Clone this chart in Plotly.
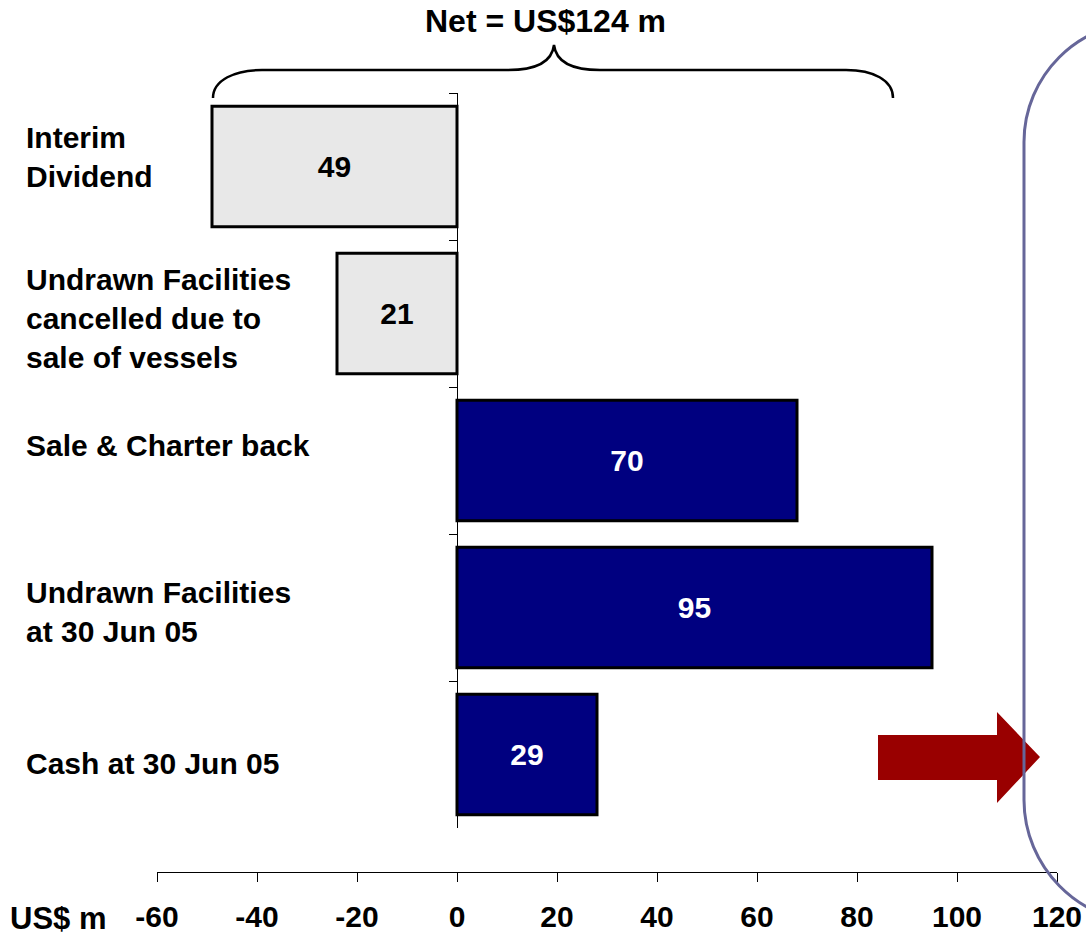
import plotly.graph_objects as go

# ---- data ----
categories = [
    "Interim<br>Dividend",
    "Undrawn Facilities<br>cancelled due to<br>sale of vessels",
    "Sale & Charter back",
    "Undrawn Facilities<br>at 30 Jun 05",
    "Cash at 30 Jun 05",
]
values = [-49, -24, 68, 95, 28]          # bar extents (US$ m)
value_labels = ["49", "21", "70", "95", "29"]
bar_colors = ["#E8E8E8", "#E8E8E8", "#000080", "#000080", "#000080"]
label_colors = ["black", "black", "white", "white", "white"]
x_ticks = [-60, -40, -20, 0, 20, 40, 60, 80, 100, 120]
x_tick_text = ["-60", "-40", "-20", "0", "20", "40", "60", "80", "100", "120"]
net_title = "Net = US$124 m"
unit_label = "US$ m"

# small vertical nudges (px) of the category labels
label_yshift = [10, -5, 15, -4, -9]

W, H = 1086, 936
ML, MR, MT, MB = 157, 29, 93, 64
PW, PH = W - ML - MR, H - MT - MB
FONT = "Liberation Sans, Arial, sans-serif"


def P(px, py):
    """pixel -> paper coords string for shape paths"""
    return f"{(px - ML) / PW:.5f},{(H - MB - py) / PH:.5f}"


fig = go.Figure()
fig.add_trace(go.Bar(
    x=values, y=categories, orientation="h", width=0.82,
    marker=dict(color=bar_colors, line=dict(color="black", width=3)),
    text=value_labels, textposition="inside", insidetextanchor="middle",
    textangle=0, constraintext="none",
    textfont=dict(family=FONT, size=30, weight="bold", color=label_colors),
    hoverinfo="skip", showlegend=False,
))

ann = []
for c, ys in zip(categories, label_yshift):
    ann.append(dict(
        x=(24 - ML) / PW, xref="paper", y=c, yref="y", text=c, yshift=ys,
        xanchor="left", yanchor="middle", align="left", showarrow=False,
        font=dict(family=FONT, size=30, weight="bold", color="black"),
    ))
ann.append(dict(
    x=(545 - ML) / PW, xref="paper", y=(H - MB - 21) / PH, yref="paper",
    text=net_title, showarrow=False, xanchor="center", yanchor="middle",
    font=dict(family=FONT, size=32, weight="bold", color="black"),
))
ann.append(dict(
    x=(8 - ML) / PW, xref="paper", y=(H - MB - 918) / PH, yref="paper",
    text=unit_label, showarrow=False, xanchor="left", yanchor="middle",
    font=dict(family=FONT, size=31, weight="bold", color="black"),
))

brace = (
    f"M {P(213, 98)} C {P(213, 80)} {P(235, 70)} {P(262, 70)} "
    f"L {P(508, 70)} C {P(535, 70)} {P(552, 62)} {P(554, 45)} "
    f"C {P(556, 62)} {P(573, 70)} {P(600, 70)} "
    f"L {P(846, 70)} C {P(873, 70)} {P(893, 80)} {P(893, 98)}"
)
arrow = (
    f"M {P(878, 735)} L {P(997, 735)} L {P(997, 712)} L {P(1040, 757)} "
    f"L {P(997, 803)} L {P(997, 780)} L {P(878, 780)} Z"
)
frame = (
    f"M {P(1300, 22)} L {P(1144, 22)} C {P(1078, 22)} {P(1024, 76)} {P(1024, 142)} "
    f"L {P(1024, 800)} C {P(1024, 866)} {P(1078, 922)} {P(1144, 922)} L {P(1300, 922)}"
)
shapes = [
    dict(type="path", xref="paper", yref="paper", path=brace,
         line=dict(color="black", width=2.5)),
    dict(type="path", xref="paper", yref="paper", path=arrow,
         fillcolor="#990000", line=dict(width=0)),
    dict(type="path", xref="paper", yref="paper", path=frame,
         line=dict(color="#666699", width=3)),
]

fig.update_layout(
    width=W, height=H,
    margin=dict(l=ML, r=MR, t=MT, b=MB, autoexpand=False),
    paper_bgcolor="white", plot_bgcolor="white",
    annotations=ann, shapes=shapes,
    xaxis=dict(
        range=[-60, 120], tickvals=x_ticks, ticktext=x_tick_text,
        ticks="outside", ticklen=9, ticklabelstandoff=9, automargin=False,
        tickcolor="black", showline=True, linecolor="black", linewidth=1,
        showgrid=False, zeroline=False, anchor="free", position=0,
        tickfont=dict(family=FONT, size=30, weight="bold", color="black"),
    ),
    yaxis=dict(
        type="category", categoryorder="array", categoryarray=categories,
        range=[4.5, -0.5], domain=[(H - MB - 828) / PH, 1],
        anchor="free", position=60 / 180, automargin=False,
        showline=True, linecolor="black", linewidth=1,
        ticks="outside", ticklen=8, tickcolor="black", tickson="boundaries",
        showticklabels=False, showgrid=False, zeroline=False,
    ),
)

fig.write_html(
    "out.html",
    config={"displayModeBar": False},
    post_script=(
        "document.documentElement.style.margin='0';"
        "document.documentElement.style.overflow='hidden';"
        "document.body.style.margin='0';"
        "document.body.style.overflow='hidden';"
        "document.body.style.height='936px';"
    ),
)
